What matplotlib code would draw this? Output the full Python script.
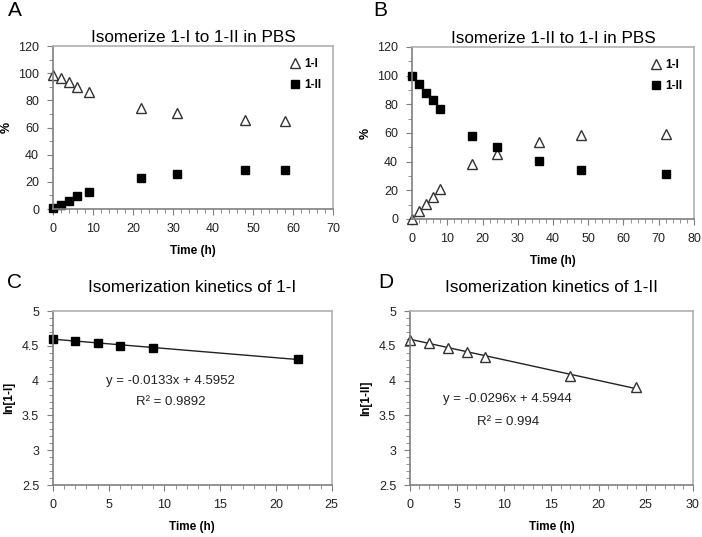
import numpy as np
import matplotlib
matplotlib.use("Agg")
import matplotlib.pyplot as plt
from matplotlib.ticker import MultipleLocator, FuncFormatter

plt.rcParams['font.family'] = ['Liberation Sans', 'DejaVu Sans']

# panel A: 1-I -> 1-II
t_a = [0, 2, 4, 6, 9, 22, 31, 48, 58]
a_1i = [99, 96.5, 93.5, 89.5, 86.5, 74, 70.5, 65.5, 65]
a_1ii = [0.5, 3, 6, 9.5, 12.5, 22.5, 26, 28.5, 28.5]

# panel B: 1-II -> 1-I
t_b = [0, 2, 4, 6, 8, 17, 24, 36, 48, 72]
b_1i = [0, 5.5, 10.5, 15, 21, 38.5, 45.5, 53.5, 58.5, 59]
b_1ii = [100, 94, 88, 83, 77, 58, 50, 40.5, 34, 31.5]

# panel C: ln[1-I]
t_c = [0, 2, 4, 6, 9, 22]
ln_c = [4.60, 4.575, 4.545, 4.50, 4.47, 4.305]
slope_c, icpt_c = -0.0133, 4.5952

# panel D: ln[1-II]
t_d = [0, 2, 4, 6, 8, 17, 24]
ln_d = [4.59, 4.54, 4.47, 4.41, 4.34, 4.06, 3.91]
slope_d, icpt_d = -0.0296, 4.5944

fig = plt.figure(figsize=(7.02, 5.37), dpi=100)
axA = fig.add_axes([0.0755, 0.6108, 0.399, 0.3035])
axB = fig.add_axes([0.5869, 0.5922, 0.4017, 0.3203])
axC = fig.add_axes([0.0755, 0.0968, 0.397, 0.324])
axD = fig.add_axes([0.584, 0.0968, 0.403, 0.324])

tri = dict(marker='^', linestyle='none', markerfacecolor='white', markeredgecolor='#333333',
           markersize=6.5, markeredgewidth=1.0)
sq = dict(marker='s', linestyle='none', color='black', markersize=6)


def style(ax, xmax, xmaj, xmin, ymin, ymax, ymaj, yminor):
    ax.set_xlim(0, xmax)
    ax.set_ylim(ymin, ymax)
    ax.xaxis.set_major_locator(MultipleLocator(xmaj))
    ax.xaxis.set_minor_locator(MultipleLocator(xmin))
    ax.yaxis.set_major_locator(MultipleLocator(ymaj))
    ax.yaxis.set_minor_locator(MultipleLocator(yminor))
    for s in ['left', 'bottom']:
        ax.spines[s].set_color('#7f7f7f')
        ax.spines[s].set_linewidth(1.2)
    for s in ['top', 'right']:
        ax.spines[s].set_color('#b0b0b0')
        ax.spines[s].set_linewidth(1.2)
    ax.tick_params(which='both', direction='out', color='#7f7f7f', labelsize=9, labelcolor='#222222')
    ax.tick_params(which='major', length=4, pad=6)
    ax.tick_params(which='minor', length=3)
    ax.set_xlabel('Time (h)', fontsize=8.5, fontweight='bold', labelpad=7)


leg_kw = dict(loc='upper right', frameon=False, prop={'weight': 'bold', 'size': 8.5},
              handletextpad=0.2, borderaxespad=0.6, labelspacing=0.8, handlelength=1.2)

style(axA, 70, 10, 2, 0, 120, 20, 10)
axA.plot(t_a, a_1i, label='1-I', clip_on=False, **tri)
axA.plot(t_a, a_1ii, label='1-II', clip_on=False, **sq)
axA.set_title('Isomerize 1-I to 1-II in PBS', fontsize=12.3, pad=3)
axA.set_ylabel('%', fontsize=9, fontweight='bold', labelpad=4)
axA.legend(**leg_kw)

style(axB, 80, 10, 2, 0, 120, 20, 10)
axB.plot(t_b, b_1i, label='1-I', clip_on=False, **tri)
axB.plot(t_b, b_1ii, label='1-II', clip_on=False, **sq)
axB.set_title('Isomerize 1-II to 1-I in PBS', fontsize=12.3, pad=3)
axB.set_ylabel('%', fontsize=9, fontweight='bold', labelpad=4)
axB.legend(**leg_kw)

style(axC, 25, 5, 1, 2.5, 5, 0.5, 0.1)
fx = np.array([t_c[0], t_c[-1]])
axC.plot(fx, slope_c * fx + icpt_c, color='#222222', linewidth=1.0)
axC.plot(t_c, ln_c, clip_on=False, **sq)
axC.set_title('Isomerization kinetics of 1-I', fontsize=12.3, pad=14)
axC.set_ylabel('ln[1-I]', fontsize=8.5, fontweight='bold', labelpad=5)
axC.yaxis.set_major_formatter(FuncFormatter(lambda v, p: '%g' % v))
axC.text(10.5, 4.0, 'y = -0.0133x + 4.5952', ha='center', va='center', fontsize=9.5, color='#222222')
axC.text(10.6, 3.69, 'R² = 0.9892', ha='center', va='center', fontsize=9.5, color='#222222')

style(axD, 30, 5, 1, 2.5, 5, 0.5, 0.1)
fx = np.array([t_d[0], t_d[-1]])
axD.plot(fx, slope_d * fx + icpt_d, color='#222222', linewidth=1.0)
axD.plot(t_d, ln_d, clip_on=False, **tri)
axD.set_title('Isomerization kinetics of 1-II', fontsize=12.3, pad=14)
axD.set_ylabel('ln[1-II]', fontsize=8.5, fontweight='bold', labelpad=5)
axD.yaxis.set_major_formatter(FuncFormatter(lambda v, p: '%g' % v))
axD.text(10.3, 3.73, 'y = -0.0296x + 4.5944', ha='center', va='center', fontsize=9.5, color='#222222')
axD.text(10.4, 3.40, 'R² = 0.994', ha='center', va='center', fontsize=9.5, color='#222222')

for lbl, x, y in [('A', 8, 10), ('B', 373, 10), ('C', 7, 283), ('D', 378, 283)]:
    fig.text(x / 702, 1 - y / 537, lbl, fontsize=15, ha='left', va='center')

fig.savefig('out.png', dpi=100)
